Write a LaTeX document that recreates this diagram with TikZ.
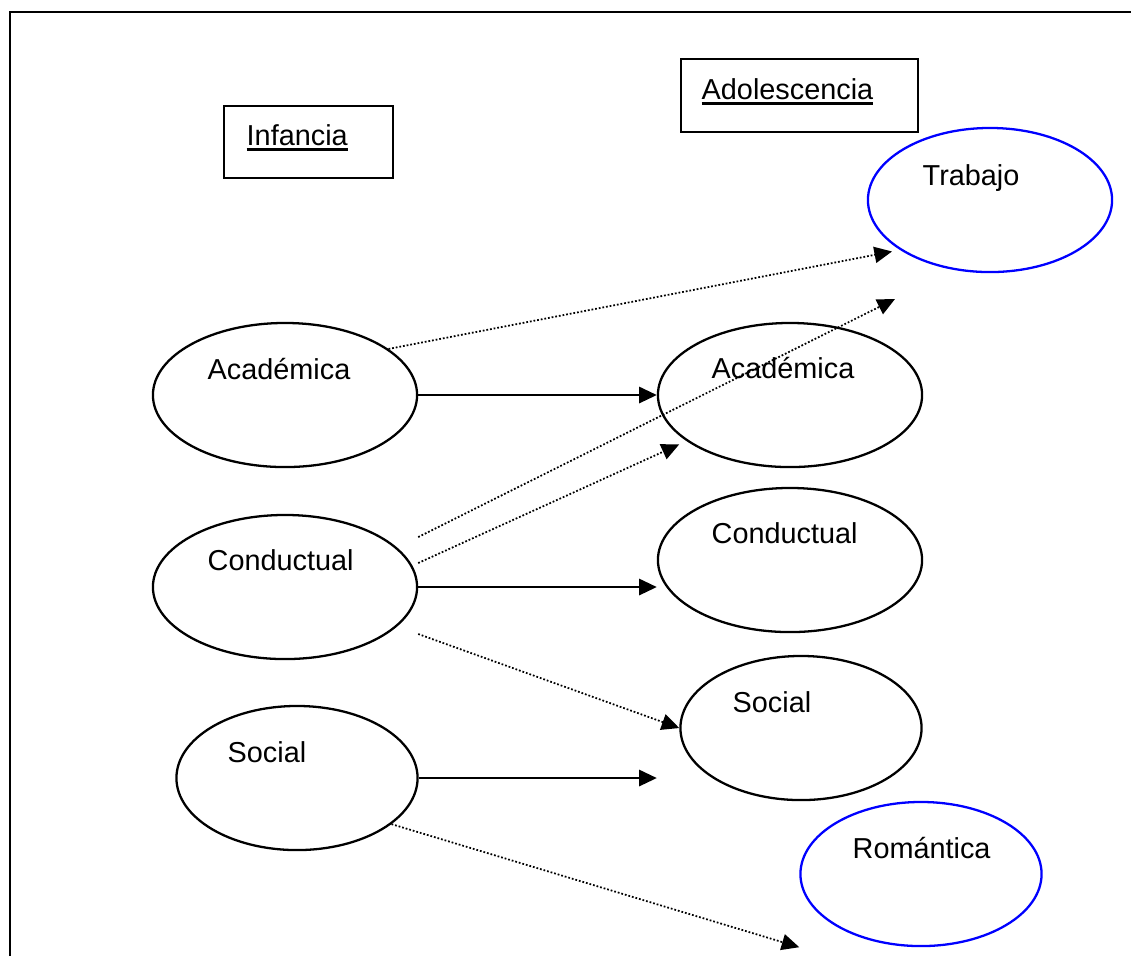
\documentclass[tikz,border=0pt]{standalone}
\usepackage{fontspec}
\setmainfont{Liberation Sans}
\usetikzlibrary{shapes.geometric, arrows.meta, calc}

\newcommand{\headline}[1]{\setbox0\hbox{#1}\rlap{\rule[-1.8pt]{\wd0}{0.85pt}}\box0}

\begin{document}
\begin{tikzpicture}[
    x=0.01cm, y=-0.01cm,
    oval/.style={draw, ellipse, line width=0.65pt, minimum width=2.64cm,
                 minimum height=1.44cm, inner sep=0pt},
    stagebox/.style={draw, line width=0.7pt, inner sep=0pt},
    lbl/.style={anchor=base west, inner sep=0pt,
                font=\fontsize{8.2pt}{10pt}\selectfont},
    link/.style={line width=0.62pt, -{Triangle[length=5pt, width=4.6pt]}},
    weak/.style={link, line width=0.5pt, dash pattern=on 0.5pt off 0.55pt}
  ]
  \useasboundingbox (0,0) rectangle (1131,956);

  % Frame
  \draw[line width=0.75pt] (10,956) -- (10,12) -- (1131,12);

  % Stage headings
  \node[stagebox, minimum width=1.69cm, minimum height=0.72cm] (infancia) at (308.5,142) {};
  \node[stagebox, minimum width=2.37cm, minimum height=0.73cm] (adolescencia) at (799.5,95.5) {};
  \node[lbl] (infanciaTxt) at (246,145) {\headline{Infancia}};
  \node[lbl] (adolescenciaTxt) at (701,99) {\headline{Adolescencia}};

  % Childhood areas
  \node[oval] (acaL) at (285,395) {};
  \node[oval] (conL) at (285,587) {};
  \node[oval, minimum width=2.41cm] (socL) at (297,778) {};
  \node[lbl] (acaLtxt) at (207,379) {Académica};
  \node[lbl] (conLtxt) at (207,570) {Conductual};
  \node[lbl] (socLtxt) at (227,762) {Social};

  % Adolescence areas
  \node[oval, draw=blue, minimum width=2.44cm] (trabajo) at (990,200) {};
  \node[oval] (acaR) at (790,395) {};
  \node[oval] (conR) at (790,560) {};
  \node[oval, minimum width=2.41cm] (socR) at (801,728) {};
  \node[oval, draw=blue, minimum width=2.41cm] (romantica) at (921,874) {};
  \node[lbl] (trabajoTxt) at (922,185) {Trabajo};
  \node[lbl] (acaRtxt) at (711,378) {Académica};
  \node[lbl] (conRtxt) at (711,543) {Conductual};
  \node[lbl] (socRtxt) at (732,712) {Social};
  \node[lbl] (romanticaTxt) at (852,858) {Romántica};

  \coordinate (belowTrabajo) at (895,299);

  % Continuity
  \draw[link] (acaL.east) -- (acaR.west);
  \draw[link] (conL.east) -- (conL.east -| conR.west);
  \draw[link] (socL.east) -- (socL.east -| conR.west);

  % Cross links
  \draw[weak, shorten >=2.3pt] (acaL.24) -- (trabajo.209);
  \draw[weak] ($(conL.east)+(0,-50)$) -- (belowTrabajo);
  \draw[weak, shorten >=2.3pt] ($(conL.east)+(0,-24)$) -- (acaR.204);
  \draw[weak] ($(conL.east)+(0,47)$) -- (socR.west);
  \draw[weak] (socL.-26) -- (romantica.west |- romantica.south);
\end{tikzpicture}
\end{document}
